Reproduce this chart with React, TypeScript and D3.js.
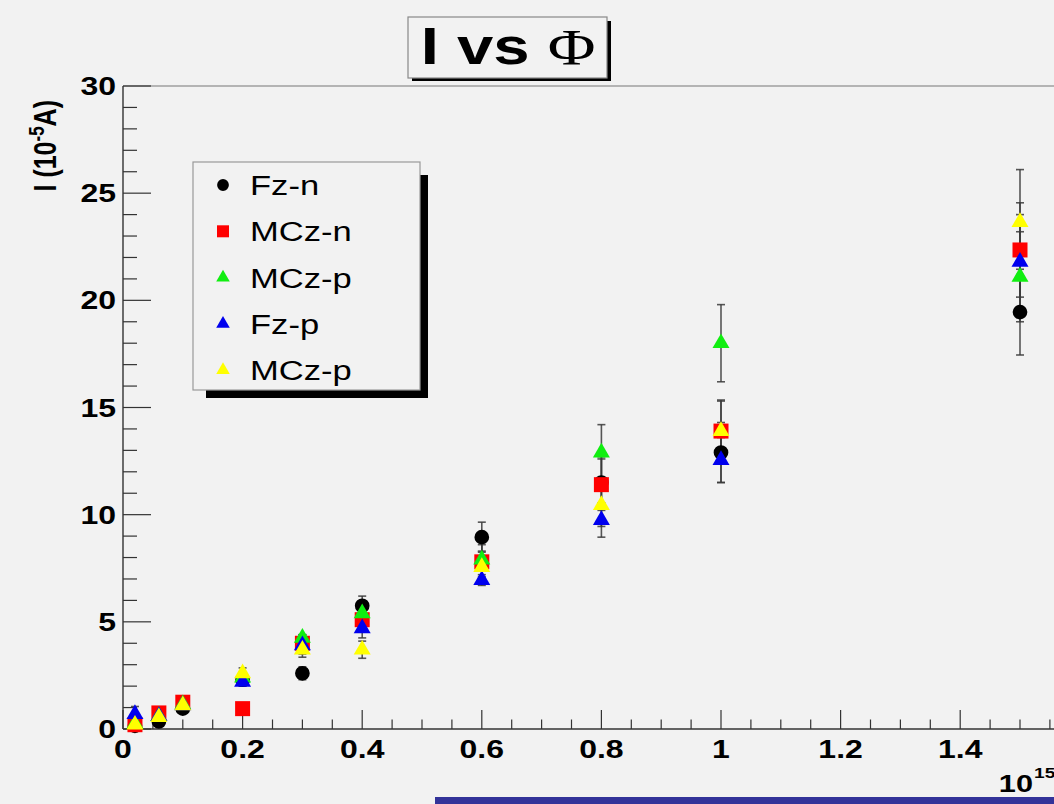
import * as d3 from 'd3';

// fluence (10^15) and current (10^-5 A) per sample
const FLUENCE = [0.02, 0.06, 0.1, 0.2, 0.3, 0.4, 0.6, 0.8, 1.0, 1.5];

const FZ_N = [0.15, 0.35, 0.95, 2.3, 2.6, 5.75, 8.95, 11.5, 12.9, 19.45];
const FZ_N_ERR = [0.1, 0.1, 0.15, 0.3, 0.3, 0.45, 0.7, 1.2, 1.4, 2.0];
const MCZ_N = [0.2, 0.75, 1.25, 0.95, 4.0, 5.1, 7.8, 11.4, 13.9, 22.35];
const MCZ_N_ERR = [0.05, 0.1, 0.15, 0.1, 0.4, 0.5, 0.8, 1.2, 1.45, 2.2];
const MCZ_P = [0.25, 0.6, 1.15, 2.4, 4.25, 5.4, 7.9, 12.9, 18.0, 21.1];
const MCZ_P_ERR = [0.05, 0.1, 0.15, 0.25, 0.15, 0.5, 0.8, 1.3, 1.8, 2.1];
const FZ_P = [0.7, 0.6, 1.1, 2.2, 3.9, 4.7, 6.95, 9.75, 12.55, 21.8];
const FZ_P_ERR = [0.35, 0.1, 0.1, 0.2, 0.4, 0.45, 0.25, 0.8, 1.05, 2.2];
const MCZ_P2 = [0.2, 0.55, 1.1, 2.6, 3.7, 3.7, 7.55, 10.45, 13.9, 23.65];
const MCZ_P2_ERR = [0.05, 0.1, 0.1, 0.25, 0.35, 0.4, 0.75, 1.0, 1.4, 2.45];

const SERIES_NAMES = ['Fz-n', 'MCz-n', 'MCz-p', 'Fz-p', 'MCz-p'];
const SERIES_COLORS = ['#000000', '#ff0000', '#11ee11', '#0000ee', '#ffff00'];
const SERIES_SHAPES = ['circle', 'square', 'triangle', 'triangle', 'triangle'];
const SERIES_VALUES = [FZ_N, MCZ_N, MCZ_P, FZ_P, MCZ_P2];
const SERIES_ERRORS = [FZ_N_ERR, MCZ_N_ERR, MCZ_P_ERR, FZ_P_ERR, MCZ_P2_ERR];

const X_TICKS = [0, 0.2, 0.4, 0.6, 0.8, 1, 1.2, 1.4];
const X_TICK_LABELS = ['0', '0.2', '0.4', '0.6', '0.8', '1', '1.2', '1.4'];
const Y_TICKS = [0, 5, 10, 15, 20, 25, 30];
const Y_TICK_LABELS = ['0', '5', '10', '15', '20', '25', '30'];

const W = 1054;
const H = 804;
const X0 = 123;
const Y0 = 729;
const YTOP = 86;
const SX = 1.28; // the picture is stretched sideways
const SANS = 'Liberation Sans, Arial, Helvetica, sans-serif';
const SERIF = 'Liberation Serif, Times New Roman, serif';
const BG = '#f2f2f2';

const symbolPath = (shape: string) => {
  if (shape === 'circle') return d3.symbol(d3.symbolCircle, 170)()!;
  if (shape === 'square') return d3.symbol(d3.symbolSquare, 225)()!;
  return d3.symbol(d3.symbolTriangle, 125)()!;
};

function SText({ x, y, anchor = 'start', size, weight = 'normal', family = SANS, children }: any) {
  return (
    <text
      transform={`translate(${x},${y}) scale(${SX},1)`}
      textAnchor={anchor}
      fontSize={size}
      fontWeight={weight}
      fontFamily={family}
      fill="#000"
    >
      {children}
    </text>
  );
}

export default function App() {
  const x = d3.scaleLinear().domain([0, 1.6]).range([X0, X0 + 1.6 * 598]);
  const y = d3.scaleLinear().domain([0, 30]).range([Y0, YTOP]);

  const xMinor = d3.range(0, 1.6001, 0.05);
  const yMinor = d3.range(0, 30.001, 1);

  const legendX = 193;
  const legendY = 162;
  const legendW = 227;
  const legendH = 228;
  const rowGap = 46.3;

  return (
    <svg width={W} height={H} style={{ position: 'absolute', left: 0, top: 0 }}>
      <rect x={0} y={0} width={W} height={H} fill={BG} />

      {/* frame */}
      <line x1={X0} x2={W} y1={YTOP} y2={YTOP} stroke="#777" strokeWidth={1.2} />
      <line x1={X0} x2={X0} y1={YTOP} y2={Y0} stroke="#333" strokeWidth={1.4} />
      <line x1={X0} x2={W} y1={Y0} y2={Y0} stroke="#333" strokeWidth={1.4} />

      {/* y ticks */}
      {yMinor.map(v => (
        <line key={`ym${v}`} x1={X0} x2={X0 + (v % 5 === 0 ? 28 : 14)} y1={y(v)} y2={y(v)} stroke="#333" strokeWidth={1.2} />
      ))}
      {Y_TICKS.map((v, i) => (
        <SText key={`yl${v}`} x={116} y={y(v) + 9} anchor="end" size={25} weight="bold">{Y_TICK_LABELS[i]}</SText>
      ))}

      {/* x ticks */}
      {xMinor.map((v, i) => (
        <line key={`xm${i}`} x1={x(v)} x2={x(v)} y1={Y0} y2={Y0 - (i % 4 === 0 ? 19 : 9.5)} stroke="#333" strokeWidth={1.2} />
      ))}
      {X_TICKS.map((v, i) => (
        <SText key={`xl${v}`} x={x(v)} y={758} anchor="middle" size={25} weight="bold">{X_TICK_LABELS[i]}</SText>
      ))}

      {/* axis titles */}
      <text
        transform={`translate(56,100) rotate(-90) scale(1,${SX})`}
        textAnchor="end"
        fontSize={25}
        fontFamily={SANS}
        fontWeight={600}
        fill="#000"
      >
        I (10<tspan dy={-9} fontSize={17}>-5</tspan><tspan dy={9}>A)</tspan>
      </text>
      <SText x={1033} y={792} anchor="end" size={24} weight="bold">10</SText>
      <SText x={1034} y={778} size={15} weight="bold">15</SText>

      {/* error bars */}
      {SERIES_VALUES.map((vals, s) => (
        <g key={`e${s}`} stroke="#3a3a3a" strokeWidth={1.6} strokeOpacity={0.85}>
          {vals.map((v, i) => {
            const e = SERIES_ERRORS[s][i];
            const cx = x(FLUENCE[i]);
            return (
              <g key={i}>
                <line x1={cx} x2={cx} y1={y(v - e)} y2={y(v + e)} />
                <line x1={cx - 4} x2={cx + 4} y1={y(v - e)} y2={y(v - e)} />
                <line x1={cx - 4} x2={cx + 4} y1={y(v + e)} y2={y(v + e)} />
              </g>
            );
          })}
        </g>
      ))}

      {/* markers */}
      {SERIES_VALUES.map((vals, s) => (
        <g key={`m${s}`} fill={SERIES_COLORS[s]}>
          {vals.map((v, i) => (
            <path key={i} d={symbolPath(SERIES_SHAPES[s])} transform={`translate(${x(FLUENCE[i])},${y(v)})`} />
          ))}
        </g>
      ))}

      {/* legend */}
      <rect x={legendX + 13} y={legendY + 13} width={legendW - 5} height={legendH - 5} fill="#000" />
      <rect x={legendX} y={legendY} width={legendW} height={legendH} fill={BG} stroke="#999" strokeWidth={1.2} />
      {SERIES_NAMES.map((name, i) => {
        const ry = legendY + 23 + i * rowGap;
        return (
          <g key={`lg${i}`}>
            <path d={symbolPath(SERIES_SHAPES[i])} transform={`translate(${legendX + 30},${ry}) scale(0.8)`} fill={SERIES_COLORS[i]} />
            <SText x={legendX + 57} y={ry + 10} size={27}>{name}</SText>
          </g>
        );
      })}

      {/* title */}
      <rect x={412} y={21} width={199} height={60} fill="#000" />
      <rect x={408} y={17} width={199} height={61} fill={BG} stroke="#888" strokeWidth={1.2} />
      <text transform={`translate(508,64) scale(${SX},1)`} textAnchor="middle" fontSize={51} fill="#000">
        <tspan fontFamily={SANS} fontWeight="bold">I vs </tspan>
        <tspan fontFamily={SERIF}>Φ</tspan>
      </text>

      {/* bottom band */}
      <rect x={435} y={797} width={W - 435} height={7} fill="#333399" />
    </svg>
  );
}
